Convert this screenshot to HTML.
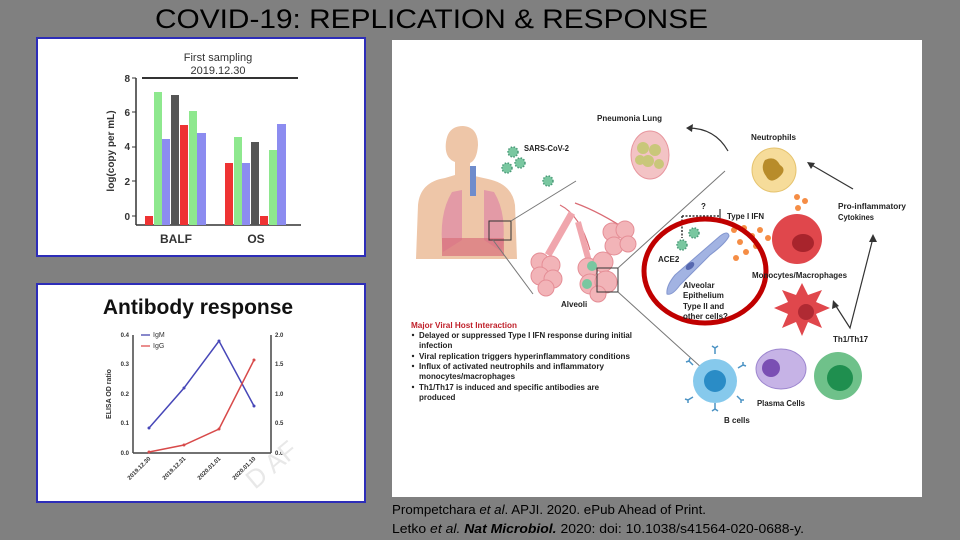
<!DOCTYPE html>
<html><head><meta charset="utf-8"><style>
html,body{margin:0;padding:0;background:#808080;}
svg{display:block;font-family:"Liberation Sans",sans-serif;}
</style></head><body>
<svg width="960" height="540" viewBox="0 0 960 540" xmlns="http://www.w3.org/2000/svg">
<rect width="960" height="540" fill="#808080"/>
<text x="155" y="28" font-size="27" textLength="553" lengthAdjust="spacingAndGlyphs" fill="#000">COVID-19:  REPLICATION &amp; RESPONSE</text>

<!-- Panel 1 -->
<rect x="37" y="38" width="328" height="218" fill="#fff" stroke="#2d2db8" stroke-width="2"/>
<text x="218" y="61" font-size="11" text-anchor="middle" fill="#333">First sampling</text>
<text x="218" y="74" font-size="11" text-anchor="middle" fill="#333">2019.12.30</text>
<line x1="142" y1="78" x2="298" y2="78" stroke="#333" stroke-width="2"/>
<line x1="136" y1="78" x2="136" y2="225" stroke="#333" stroke-width="1.5"/>
<line x1="136" y1="225" x2="301" y2="225" stroke="#333" stroke-width="1.5"/>
<g font-size="10" font-weight="bold" fill="#333" text-anchor="end">
<text x="130" y="82">8</text><text x="130" y="150">4</text><text x="130" y="116">6</text><text x="130" y="185">2</text><text x="130" y="220">0</text></g>
<g stroke="#333"><line x1="132" y1="78" x2="136" y2="78"/><line x1="132" y1="112" x2="136" y2="112"/><line x1="132" y1="147" x2="136" y2="147"/><line x1="132" y1="181" x2="136" y2="181"/><line x1="132" y1="216" x2="136" y2="216"/></g>
<text transform="translate(114,151) rotate(-90)" font-size="10" font-weight="bold" fill="#333" text-anchor="middle">log(copy per mL)</text>
<rect x="145" y="216" width="8" height="9" fill="#e33"/>
<rect x="154" y="92" width="8" height="133" fill="#8ee88e"/>
<rect x="162" y="139" width="8" height="86" fill="#8c8cf0"/>
<rect x="171" y="95" width="8" height="130" fill="#555"/>
<rect x="180" y="125" width="8" height="100" fill="#e33"/>
<rect x="189" y="111" width="8" height="114" fill="#8ee88e"/>
<rect x="197" y="133" width="9" height="92" fill="#8c8cf0"/>
<rect x="225" y="163" width="8" height="62" fill="#e33"/>
<rect x="234" y="137" width="8" height="88" fill="#8ee88e"/>
<rect x="242" y="163" width="8" height="62" fill="#8c8cf0"/>
<rect x="251" y="142" width="8" height="83" fill="#555"/>
<rect x="260" y="216" width="8" height="9" fill="#e33"/>
<rect x="269" y="150" width="8" height="75" fill="#8ee88e"/>
<rect x="277" y="124" width="9" height="101" fill="#8c8cf0"/>
<text x="176" y="243" font-size="12" font-weight="bold" fill="#333" text-anchor="middle">BALF</text>
<text x="256" y="243" font-size="12" font-weight="bold" fill="#333" text-anchor="middle">OS</text>

<!-- Panel 2 -->
<rect x="37" y="284" width="328" height="218" fill="#fff" stroke="#2d2db8" stroke-width="2"/>
<text x="198" y="314" font-size="21" font-weight="bold" fill="#111" text-anchor="middle">Antibody response</text>
<line x1="133" y1="335" x2="133" y2="453" stroke="#444" stroke-width="1.5"/>
<line x1="133" y1="453" x2="271" y2="453" stroke="#444" stroke-width="1.5"/>
<line x1="271" y1="335" x2="271" y2="453" stroke="#444" stroke-width="1.5"/>
<g font-size="6" font-weight="bold" fill="#333" text-anchor="end">
<text x="129" y="337">0.4</text><text x="129" y="366">0.3</text><text x="129" y="396">0.2</text><text x="129" y="425">0.1</text><text x="129" y="455">0.0</text></g>
<g font-size="6" font-weight="bold" fill="#333">
<text x="275" y="337">2.0</text><text x="275" y="366">1.5</text><text x="275" y="396">1.0</text><text x="275" y="425">0.5</text><text x="275" y="455">0.0</text></g>
<text transform="translate(111,394) rotate(-90)" font-size="7" font-weight="bold" fill="#333" text-anchor="middle">ELISA OD ratio</text>
<line x1="141" y1="335" x2="150" y2="335" stroke="#3a3aa8" stroke-width="1.2"/>
<text x="153" y="337" font-size="7" fill="#333">IgM</text>
<line x1="141" y1="346" x2="150" y2="346" stroke="#d44" stroke-width="1.2"/>
<text x="153" y="348" font-size="7" fill="#333">IgG</text>
<polyline points="149,428 184,388 219,341 254,406" fill="none" stroke="#4747b8" stroke-width="1.5"/>
<polyline points="149,452 184,445 219,429 254,360" fill="none" stroke="#d84a4a" stroke-width="1.5"/>
<g fill="#4747b8"><circle cx="149" cy="428" r="1.5"/><circle cx="184" cy="388" r="1.5"/><circle cx="219" cy="341" r="1.5"/><circle cx="254" cy="406" r="1.5"/></g>
<g fill="#d84a4a"><circle cx="149" cy="452" r="1.5"/><circle cx="184" cy="445" r="1.5"/><circle cx="219" cy="429" r="1.5"/><circle cx="254" cy="360" r="1.5"/></g>
<g font-size="6" font-weight="bold" fill="#333" text-anchor="end">
<text transform="translate(151,459) rotate(-45)">2019.12.30</text>
<text transform="translate(186,459) rotate(-45)">2019.12.31</text>
<text transform="translate(221,459) rotate(-45)">2020.01.01</text>
<text transform="translate(256,459) rotate(-45)">2020.01.10</text></g>
<text transform="translate(255,490) rotate(-40)" font-size="26" fill="#e8e8e8">D AF</text>

<!-- Right illustration -->
<rect x="392" y="40" width="530" height="457" fill="#fff"/>
<path d="M416,259 L418,205 Q420,182 445,178 L455,175 L455,162 Q444,158 446,142 Q448,126 463,126 Q478,127 478,145 Q477,160 470,163 L470,175 L488,179 Q512,184 515,205 L517,259 Z" fill="#eec6a8"/>
<path d="M443,252 Q438,215 452,192 L462,190 L462,240 Z M502,252 Q508,215 494,192 L484,190 L484,240 Z" fill="#e39aa6"/>
<rect x="442" y="238" width="62" height="18" fill="#d9707c" opacity="0.7"/>
<rect x="470" y="166" width="6" height="30" fill="#6f8ccc"/>
<rect x="489" y="221" width="22" height="19" fill="none" stroke="#333" stroke-width="1"/>
<line x1="511" y1="221" x2="576" y2="181" stroke="#777" stroke-width="1"/>
<line x1="493" y1="240" x2="533" y2="294" stroke="#777" stroke-width="1"/>
<g fill="#79c7a0" stroke="#4a9a78" stroke-width="1.5" stroke-dasharray="1.5 1.5">
<circle cx="513" cy="152" r="5"/><circle cx="507" cy="168" r="5"/><circle cx="520" cy="163" r="5"/><circle cx="548" cy="181" r="5"/>
<circle cx="694" cy="233" r="5"/><circle cx="682" cy="245" r="5"/></g>
<!-- alveoli -->
<path d="M560,205 Q580,215 590,250 M575,203 Q600,212 630,232" fill="none" stroke="#d96b74" stroke-width="1.2"/>
<path d="M548,255 L572,213" stroke="#f0a6ad" stroke-width="7"/>
<path d="M590,265 L578,222" stroke="#f0a6ad" stroke-width="6"/>
<g fill="#f2b4b8" stroke="#e58e96" stroke-width="1">
<circle cx="540" cy="262" r="9"/><circle cx="551" cy="265" r="9"/><circle cx="540" cy="276" r="9"/><circle cx="553" cy="279" r="9"/><circle cx="546" cy="288" r="8"/>
<circle cx="588" cy="268" r="10"/><circle cx="603" cy="262" r="10"/><circle cx="590" cy="284" r="10"/><circle cx="606" cy="282" r="11"/><circle cx="598" cy="294" r="8"/>
<circle cx="612" cy="232" r="9"/><circle cx="625" cy="230" r="9"/><circle cx="614" cy="246" r="9"/><circle cx="628" cy="244" r="8"/></g>
<circle cx="592" cy="266" r="5" fill="#79c7a0"/><circle cx="587" cy="284" r="5" fill="#79c7a0"/>
<rect x="597" y="268" width="21" height="24" fill="none" stroke="#333" stroke-width="1"/>
<line x1="618" y1="268" x2="725" y2="171" stroke="#777" stroke-width="1"/>
<line x1="618" y1="292" x2="703" y2="369" stroke="#777" stroke-width="1"/>
<!-- pneumonia lung -->
<ellipse cx="650" cy="155" rx="19" ry="24" fill="#f3c3c5" stroke="#e7959d"/>
<g fill="#c9c77a"><circle cx="643" cy="148" r="6"/><circle cx="655" cy="150" r="6"/><circle cx="648" cy="161" r="6"/><circle cx="659" cy="164" r="5"/><circle cx="640" cy="160" r="5"/></g>
<path d="M728,151 Q715,128 688,128" fill="none" stroke="#333" stroke-width="1.2"/>
<path d="M686,128 L693,124 L692,132 Z" fill="#333"/>
<circle cx="774" cy="170" r="22" fill="#f6dc9a" stroke="#e6c470"/>
<path d="M765,160 Q775,155 780,165 Q788,170 778,178 Q770,184 766,176 Q760,168 765,160Z" fill="#b88c2a"/>
<line x1="853" y1="189" x2="810" y2="164" stroke="#333" stroke-width="1.2"/>
<path d="M807,162 L815,163 L811,169 Z" fill="#333"/>
<circle cx="797" cy="239" r="25" fill="#e0474c"/>
<ellipse cx="803" cy="243" rx="11" ry="9" fill="#a8242c"/>
<g fill="#f58d45"><circle cx="797" cy="197" r="3"/><circle cx="805" cy="201" r="3"/><circle cx="798" cy="208" r="3"/><circle cx="734" cy="230" r="3"/><circle cx="744" cy="228" r="3"/><circle cx="752" cy="236" r="3"/><circle cx="760" cy="230" r="3"/><circle cx="768" cy="238" r="3"/><circle cx="740" cy="242" r="3"/><circle cx="746" cy="252" r="3"/><circle cx="736" cy="258" r="3"/><circle cx="756" cy="246" r="3"/></g>
<polygon points="802,283 808,295 822,290 816,302 830,308 816,314 822,328 808,322 802,336 796,322 782,328 788,314 774,308 788,302 782,290 796,295" fill="#e0474c"/>
<circle cx="806" cy="312" r="8" fill="#b02a33"/>
<polyline points="834,303 850,328 873,238" fill="none" stroke="#333" stroke-width="1.2"/>
<path d="M833,300 L832,309 L839,306 Z M873,234 L869,242 L877,242 Z" fill="#333"/>
<circle cx="838" cy="376" r="24" fill="#6fc18a"/><circle cx="840" cy="378" r="13" fill="#1f8f4f"/>
<ellipse cx="781" cy="369" rx="25" ry="20" fill="#c6b3e6" stroke="#9d86cf"/>
<circle cx="771" cy="368" r="9" fill="#7a4fb3"/>
<circle cx="715" cy="381" r="22" fill="#86c9ec"/><circle cx="715" cy="381" r="11" fill="#2a8cc6"/>
<g stroke="#4c93c4" stroke-width="1.5" fill="none">
<path d="M693,365 l-4,-4 M689,361 l-3,1 M689,361 l1,-3"/><path d="M715,354 v-6 M715,348 l-3,-2 M715,348 l3,-2"/><path d="M738,368 l5,-3 M743,365 l0,-3 M743,365 l3,1"/><path d="M737,396 l4,4 M741,400 l3,0 M741,400 l0,3"/><path d="M715,403 v6 M715,409 l-3,2 M715,409 l3,2"/><path d="M693,397 l-5,3 M688,400 l-3,-1 M688,400 l0,3"/></g>
<path d="M667,294 Q666,286 675,275 L720,236 Q728,230 729,236 Q726,243 710,255 L680,285 Q672,296 667,294Z" fill="#a2b3e2" stroke="#8396cf"/>
<ellipse cx="690" cy="266" rx="5" ry="3" fill="#5668b0" transform="rotate(-40 690 266)"/>
<line x1="682" y1="216" x2="719" y2="216" stroke="#333" stroke-dasharray="2 1.5" stroke-width="1.5"/>
<line x1="682" y1="216" x2="682" y2="238" stroke="#333" stroke-dasharray="2 1.5" stroke-width="1.5"/>
<line x1="720" y1="209" x2="720" y2="222" stroke="#333" stroke-width="1.2"/>
<ellipse cx="705" cy="271" rx="61" ry="52" fill="none" stroke="#c00000" stroke-width="5"/>
<g font-size="8" font-weight="bold" fill="#222">
<text x="597" y="121" textLength="65" lengthAdjust="spacingAndGlyphs">Pneumonia Lung</text>
<text x="524" y="151" textLength="45" lengthAdjust="spacingAndGlyphs">SARS-CoV-2</text>
<text x="751" y="140" textLength="45" lengthAdjust="spacingAndGlyphs">Neutrophils</text>
<text x="838" y="209" textLength="68" lengthAdjust="spacingAndGlyphs">Pro-inflammatory</text>
<text x="838" y="220" textLength="36" lengthAdjust="spacingAndGlyphs">Cytokines</text>
<text x="701" y="209">?</text>
<text x="727" y="219" textLength="37" lengthAdjust="spacingAndGlyphs">Type I IFN</text>
<text x="658" y="262">ACE2</text>
<text x="752" y="278" textLength="95" lengthAdjust="spacingAndGlyphs">Monocytes/Macrophages</text>
<text x="683" y="288">Alveolar</text>
<text x="683" y="298">Epithelium</text>
<text x="683" y="309">Type II and</text>
<text x="683" y="319">other cells?</text>
<text x="561" y="307">Alveoli</text>
<text x="833" y="342">Th1/Th17</text>
<text x="757" y="406" textLength="48" lengthAdjust="spacingAndGlyphs">Plasma Cells</text>
<text x="724" y="423">B cells</text>
<text x="411" y="328" fill="#c0202a" textLength="106" lengthAdjust="spacingAndGlyphs">Major Viral Host Interaction</text>
<text x="419" y="338" textLength="213" lengthAdjust="spacingAndGlyphs">Delayed or suppressed Type I IFN response during initial</text>
<text x="419" y="348">infection</text>
<text x="419" y="359" textLength="211" lengthAdjust="spacingAndGlyphs">Viral replication triggers hyperinflammatory conditions</text>
<text x="419" y="369" textLength="185" lengthAdjust="spacingAndGlyphs">Influx of activated neutrophils and inflammatory</text>
<text x="419" y="379" textLength="96" lengthAdjust="spacingAndGlyphs">monocytes/macrophages</text>
<text x="419" y="390" textLength="180" lengthAdjust="spacingAndGlyphs">Th1/Th17 is induced and specific antibodies are</text>
<text x="419" y="400">produced</text>
</g>
<g fill="#222"><circle cx="413" cy="335" r="1.2"/><circle cx="413" cy="356" r="1.2"/><circle cx="413" cy="366" r="1.2"/><circle cx="413" cy="387" r="1.2"/></g>

<text x="392" y="514" font-size="12.5" fill="#000" textLength="314" lengthAdjust="spacingAndGlyphs">Prompetchara <tspan font-style="italic">et al</tspan>.  APJI.  2020.  ePub Ahead of Print.</text>
<text x="392" y="533" font-size="12.5" fill="#000" textLength="412" lengthAdjust="spacingAndGlyphs">Letko <tspan font-style="italic">et al.</tspan>  <tspan font-style="italic" font-weight="bold">Nat Microbiol.</tspan>  2020: doi: 10.1038/s41564-020-0688-y.</text>
</svg>
</body></html>
